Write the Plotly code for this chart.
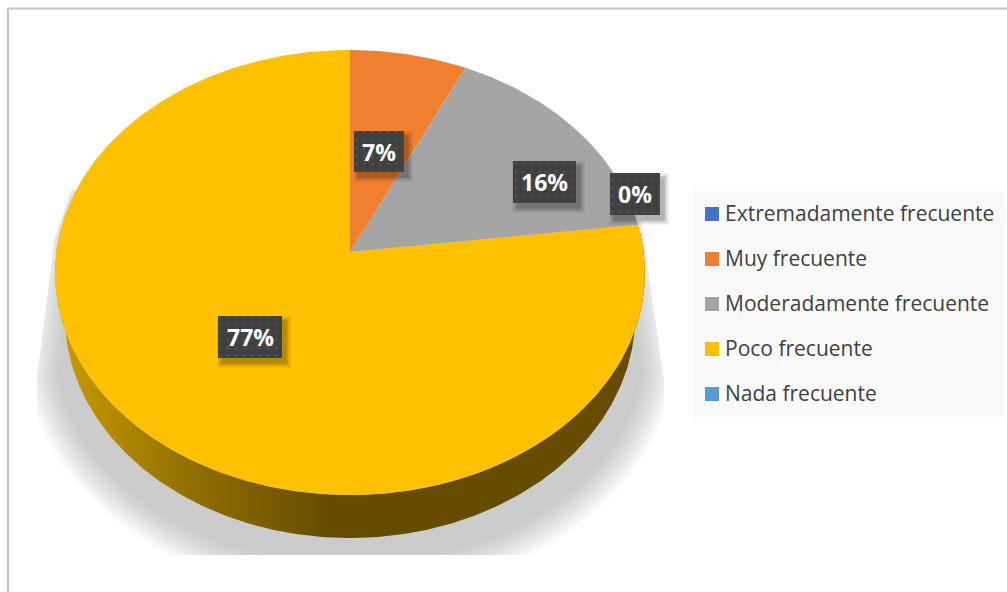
import numpy as np
import plotly.graph_objects as go

# Survey responses, in drawing order (clockwise from twelve o'clock)
CATEGORIES = ["Extremadamente frecuente", "Muy frecuente", "Moderadamente frecuente",
              "Poco frecuente", "Nada frecuente"]
VALUES = [0, 7, 16, 77, 0]
COLORS = ["#4472c4", "#ed7d31", "#a5a5a5", "#ffc000", "#5b9bd5"]
TOP_COLORS = ["#4472c4", "#f08030", "#a5a5a5", "#ffc102", "#5b9bd5"]

# Data labels: which category, box centre, box size
LABEL_INDEX = [1, 2, 4, 3]
LABEL_CENTER = [(379, 151.5), (544.5, 182), (635, 194), (250, 337)]
LABEL_SIZE = [(50, 41), (63, 42), (50, 42), (64, 42)]

# Tilted disc: the hub and the perspective of the rim
HUB_X, HUB_Y = 350.0, 252.0
PERSPECTIVE = 0.0921
RIM_X, RIM_Y = 293.7, 220.6
DEPTH = 43.0
BASE_SCALE = 0.967  # the underside looks narrower than the top face


def rim(theta):
    """Project a clockwise angle in radians onto the tilted disc's rim."""
    u, v = np.sin(theta), np.cos(theta)
    w = 1 + PERSPECTIVE * v
    return HUB_X + RIM_X * u / w, HUB_Y - RIM_Y * v / w


def rect_trace(cx, cy, w, h, **kw):
    x = [cx - w / 2, cx + w / 2, cx + w / 2, cx - w / 2, cx - w / 2]
    y = [cy - h / 2, cy - h / 2, cy + h / 2, cy + h / 2, cy - h / 2]
    return go.Scatter(x=x, y=y, mode="lines", fill="toself", line=dict(width=0),
                      hoverinfo="skip", showlegend=False, **kw)


fig = go.Figure()

# Soft ground shadow: nested outlines from pale to full grey, cut off at its frame
SHADOW_CX, SHADOW_CY = 350.0, 345.0
LAYERS = 26
steps = np.linspace(15, -20, LAYERS)
greys = 204 + 50 * (1 - np.linspace(0, 1, LAYERS)) ** 1.3
t = np.linspace(np.radians(98), np.radians(262), 160)
for d, g in zip(steps, greys):
    sx = np.clip(SHADOW_CX + (313 + d) * np.sin(t), 37, 664)
    sy = np.clip(SHADOW_CY - (238 + d) * np.cos(t), None, 555)
    inset = max(-d, 0)
    sx = np.r_[641 - inset, sx, 55 + inset, 72 + inset, 641 - inset]
    sy = np.r_[222, sy, 238, 190, 222]
    c = f"rgb({g:.0f},{g:.0f},{g:.0f})"
    fig.add_trace(go.Scatter(x=sx, y=sy, mode="lines", fill="toself", fillcolor=c,
                             line=dict(width=0), hoverinfo="skip", showlegend=False))

# Side wall of the disc, shaded from left to right
t = np.linspace(np.radians(85), np.radians(275), 240)
wx, wy = rim(t)
base_x = HUB_X + (wx - HUB_X) * BASE_SCALE
fig.add_trace(go.Scatter(
    x=np.r_[wx, base_x[::-1], wx[0]], y=np.r_[wy, (wy + DEPTH)[::-1], wy[0]],
    mode="lines", fill="toself", line=dict(width=0), hoverinfo="skip", showlegend=False,
    fillgradient=dict(type="horizontal", start=60, stop=330,
                      colorscale=[[0, "#c99b00"], [0.5, "#8f6e00"], [1, "#664c00"]]),
))

# Top face: one wedge per category, sweeping clockwise from the top
total = sum(VALUES)
start = 0.0
for value, color in zip(VALUES, TOP_COLORS):
    if value > 0:
        sweep = 2 * np.pi * value / total
        a = np.linspace(start, start + sweep, max(int(value * 5), 12))
        rx, ry = rim(a)
        fig.add_trace(go.Scatter(x=np.r_[HUB_X, rx, HUB_X], y=np.r_[HUB_Y, ry, HUB_Y],
                                 mode="lines", fill="toself", fillcolor=color,
                                 line=dict(width=0), hoverinfo="skip", showlegend=False))
        start += sweep

# Dark dotted label boxes with a blurred drop shadow
for (cx, cy), (w, h) in zip(LABEL_CENTER, LABEL_SIZE):
    for grow, alpha in zip((10, 7, 4, 1), (0.05, 0.07, 0.09, 0.11)):
        fig.add_trace(rect_trace(cx + 4, cy + 5, w + grow, h + grow,
                                 fillcolor=f"rgba(0,0,0,{alpha})"))
    fig.add_trace(rect_trace(cx, cy, w, h,
                             fillpattern=dict(shape=".", bgcolor="#404040", fgcolor="#545454",
                                              size=8, solidity=0.18)))

# Legend panel swatches
LEGEND_SWATCH_X = 712
LEGEND_TEXT_X = 725
LEGEND_ROWS = [214, 259, 304, 349, 394]
fig.add_trace(go.Scatter(x=[LEGEND_SWATCH_X] * len(CATEGORIES), y=LEGEND_ROWS, mode="markers",
                         marker=dict(symbol="square", size=14, color=COLORS, line=dict(width=0)),
                         hovertext=CATEGORIES, hoverinfo="text", showlegend=False))

annotations = []
for i, (cx, cy) in zip(LABEL_INDEX, LABEL_CENTER):
    annotations.append(dict(x=cx, y=cy, xref="x", yref="y", text=f"<b>{VALUES[i]}%</b>",
                            showarrow=False, font=dict(family="Open Sans", size=23, color="#ffffff")))
for name, row in zip(CATEGORIES, LEGEND_ROWS):
    annotations.append(dict(x=LEGEND_TEXT_X, y=row, xref="x", yref="y", text=name, xanchor="left",
                            showarrow=False, xshift=-2, yshift=1,
                            font=dict(family="Open Sans", size=21, color="#404040")))

shapes = [
    dict(type="rect", x0=693, x1=1005, y0=191, y1=417, fillcolor="#fafafa",
         line=dict(width=0), layer="below"),
    dict(type="line", x0=8, x1=1007, y0=8.5, y1=8.5, line=dict(color="#c4c4c4", width=2), layer="below"),
    dict(type="line", x0=8, x1=8, y0=8, y1=592, line=dict(color="#c4c4c4", width=2), layer="below"),
]

fig.update_layout(
    width=1007, height=592, margin=dict(l=0, r=0, t=0, b=0),
    paper_bgcolor="#ffffff", plot_bgcolor="#ffffff", showlegend=False,
    xaxis=dict(range=[0, 1007], visible=False, fixedrange=True),
    yaxis=dict(range=[592, 0], visible=False, fixedrange=True),
    shapes=shapes, annotations=annotations,
)
fig.write_html("out.html", config=dict(displayModeBar=False))
